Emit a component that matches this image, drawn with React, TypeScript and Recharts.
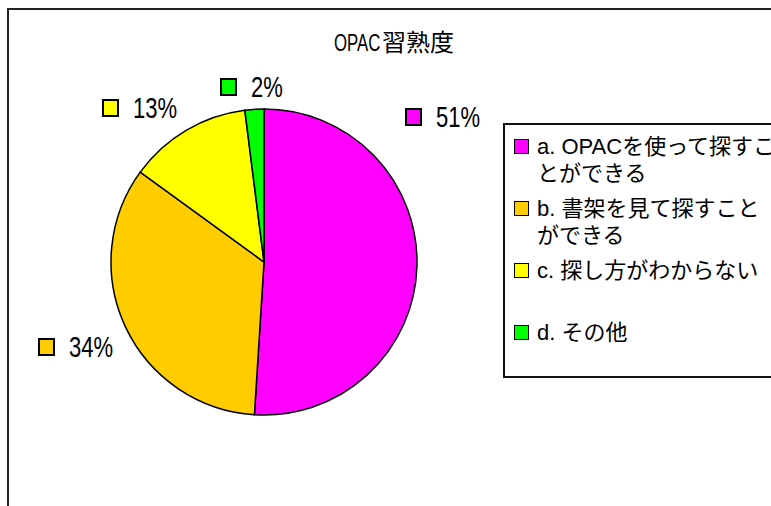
import { PieChart, Pie, Cell, Legend } from "recharts";

const title = "OPAC習熟度";
const categories = [
  "a. OPACを使って探すことができる",
  "b. 書架を見て探すことができる",
  "c. 探し方がわからない",
  "d. その他",
];
const shares = [51, 34, 13, 2];
const colors = ["#FF00FF", "#FFCC00", "#FFFF00", "#00FF00"];

const data = categories.map((name, i) => ({ name, value: shares[i] }));

// where Excel dropped each data label, relative to the pie centre
const labelOffsets = [
  [141, -145],
  [-226, 85],
  [-162, -154],
  [-44, -175],
];

const gothic = "'Liberation Sans', 'Noto Sans CJK JP', sans-serif";

const renderLabel = (props: any) => {
  const { cx, cy, index, percent } = props;
  const [dx, dy] = labelOffsets[index];
  const x = cx + dx;
  const y = cy + dy;
  return (
    <g>
      <rect x={x + 1} y={y - 8} width={15} height={16} fill={colors[index]} stroke="#000" strokeWidth={2} />
      <text
        transform={`translate(${x + 31},${y + 10}) scale(0.76,1)`}
        fontSize={29}
        fontFamily={gothic}
        fill="#000"
      >
        {`${Math.round(percent * 100)}%`}
      </text>
    </g>
  );
};

const renderLegend = (props: any) => {
  const { payload } = props;
  return (
    <div
      style={{
        width: 290,
        height: 255,
        boxSizing: "border-box",
        border: "2px solid #111",
        borderRight: "none",
        background: "#fff",
        padding: "8px 0 0 9px",
        fontFamily: gothic,
      }}
    >
      {(payload || []).map((entry: any, i: number) => (
        <div key={i} style={{ display: "flex", height: 62 }}>
          <span
            style={{
              width: 13,
              height: 13,
              marginTop: 6,
              border: "1.5px solid #000",
              background: colors[i],
              flexShrink: 0,
            }}
          />
          <span
            style={{
              marginLeft: 8,
              width: 242,
              fontSize: 22,
              lineHeight: "27px",
              color: "#000",
              wordBreak: "break-all",
            }}
          >
            {entry.value}
          </span>
        </div>
      ))}
    </div>
  );
};

const titleParts = title.match(/^([A-Za-z]*)(.*)$/) || ["", "", title];

export default function App() {
  return (
    <div style={{ position: "absolute", left: 0, top: 0, width: 771, height: 506, overflow: "hidden", background: "#fff" }}>
      <div
        style={{
          position: "absolute",
          left: 7,
          top: 8,
          width: 820,
          height: 540,
          borderLeft: "2px solid #222",
          borderTop: "2px solid #222",
        }}
      />
      <div
        style={{
          position: "absolute",
          left: 0,
          width: 788,
          top: 28,
          textAlign: "center",
          fontSize: 24,
          lineHeight: "30px",
          fontFamily: gothic,
          color: "#000",
          whiteSpace: "nowrap",
        }}
      >
        <span style={{ display: "inline-block", transform: "scaleX(0.7)", margin: "0 -10px" }}>{titleParts[1]}</span>
        <span style={{ marginLeft: 2 }}>{titleParts[2]}</span>
      </div>
      <div style={{ position: "absolute", left: 0, top: 0 }}>
        <PieChart width={771} height={506} margin={{ top: 0, right: 0, bottom: 0, left: 0 }}>
          <Pie
            data={data}
            dataKey="value"
            nameKey="name"
            cx={264}
            cy={262}
            outerRadius={153}
            startAngle={90}
            endAngle={-270}
            stroke="#000"
            strokeWidth={1.5}
            label={renderLabel}
            labelLine={false}
            isAnimationActive={false}
          >
            {data.map((d, i) => (
              <Cell key={d.name} fill={colors[i]} />
            ))}
          </Pie>
          <Legend
            content={renderLegend}
            wrapperStyle={{ position: "absolute", left: 503, top: 123, width: 290 }}
          />
        </PieChart>
      </div>
    </div>
  );
}
